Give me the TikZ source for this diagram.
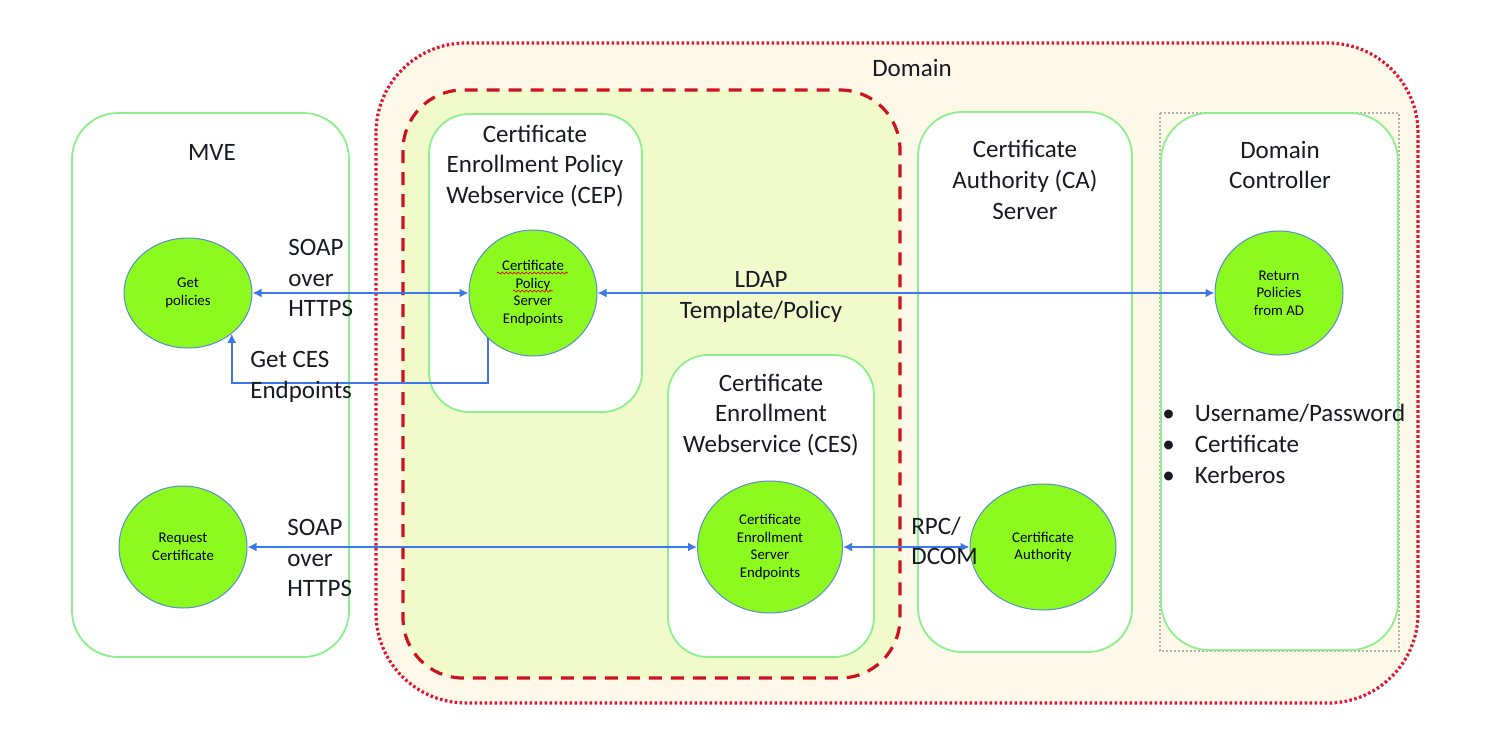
\documentclass[tikz,border=0pt]{standalone}
\usepackage{fontspec}
\setmainfont{Carlito}
\usetikzlibrary{shapes.geometric,arrows.meta,decorations.pathmorphing}
\definecolor{domainfill}{RGB}{253,248,232}
\definecolor{dashfill}{RGB}{240,250,202}
\definecolor{boxgreen}{RGB}{140,240,140}
\definecolor{circfill}{RGB}{140,250,30}
\definecolor{circborder}{RGB}{90,140,210}
\definecolor{arrowblue}{RGB}{60,120,235}
\definecolor{dotred}{RGB}{225,20,50}
\definecolor{dashred}{RGB}{205,20,30}
\definecolor{txt}{RGB}{25,25,35}
\tikzset{
  bigtext/.style={font=\fontsize{12.5}{15.3}\selectfont, text=txt, align=center, inner sep=0pt},
  lefttext/.style={font=\fontsize{12.5}{15.3}\selectfont, text=txt, align=left, inner sep=0pt},
  smalltext/.style={font=\fontsize{7.4}{8.8}\selectfont, text=black},
  greenbox/.style={draw=boxgreen, line width=0.9pt, fill=white},
  circ/.style={ellipse, draw=circborder, line width=0.5pt, fill=circfill, smalltext, align=center, inner sep=0pt},
  arr/.style={draw=arrowblue, line width=1.2pt, -{Latex[length=4.5pt,width=4.5pt]}},
  darr/.style={draw=arrowblue, line width=1.2pt, {Latex[length=4.5pt,width=4.5pt]}-{Latex[length=4.5pt,width=4.5pt]}},
  squig/.style={draw=red!85!black, line width=0.35pt, decorate, decoration={snake, amplitude=0.5pt, segment length=2pt}}
}
\begin{document}
\begin{tikzpicture}[x=0.5pt, y=-0.5pt]
\useasboundingbox (0,0) rectangle (1500,745);
\fill[white] (0,0) rectangle (1500,745);
% Domain
\draw[fill=domainfill, draw=dotred, line width=1.6pt, dash pattern=on 1.3pt off 1.2pt, rounded corners=45pt] (376,43) rectangle (1418,703);
\node[bigtext] (domlbl) at (912,68) {Domain};
% dashed region
\draw[fill=dashfill, draw=dashred, line width=1.6pt, dash pattern=on 6.5pt off 4.5pt, rounded corners=30pt] (403,90) rectangle (900,678);
% boxes
\draw[greenbox, rounded corners=23pt] (72,113) rectangle (349,657);
\node[bigtext] (mvelbl) at (212,152) {MVE};
\draw[greenbox, rounded corners=20pt] (429,114) rectangle (642,412);
\node[bigtext] (ceplbl) at (535,166) {Certificate\\Enrollment Policy\\Webservice (CEP)};
\draw[greenbox, rounded corners=20pt] (668,355) rectangle (874,657);
\node[bigtext] (ceslbl) at (771,415) {Certificate\\Enrollment\\Webservice (CES)};
\draw[greenbox, rounded corners=22pt] (918,112) rectangle (1132,652);
\node[bigtext] (calbl) at (1025,180) {Certificate\\Authority (CA)\\Server};
\draw[gray!60, line width=0.6pt, dash pattern=on 1pt off 1pt] (1160,113) rectangle (1399,651);
\draw[greenbox, rounded corners=24pt] (1161,113) rectangle (1398,650);
\node[bigtext] (dclbl) at (1280,165) {Domain\\Controller};
% bullets
\node[lefttext, anchor=west] (bul) at (1162,444) {\textbullet\hspace{10pt}Username/Password\\\textbullet\hspace{10pt}Certificate\\\textbullet\hspace{10pt}Kerberos};
% circles
\node[circ, minimum width=64pt, minimum height=55pt] (getp) at (188,293) {Get\\policies};
\node[circ, minimum width=64pt, minimum height=63pt] (cep) at (533,293) {Certificate\\Policy\\Server\\Endpoints};
\node[circ, minimum width=64pt, minimum height=62pt] (ret) at (1279,293) {Return\\Policies\\from AD};
\node[circ, minimum width=64pt, minimum height=61pt] (req) at (183,547) {Request\\Certificate};
\node[circ, minimum width=72.5pt, minimum height=66pt] (ces) at (770,547) {Certificate\\Enrollment\\Server\\Endpoints};
\node[circ, minimum width=73pt, minimum height=63pt] (ca) at (1043,547) {Certificate\\Authority};
\draw[squig] ([shift={(-36,-20)}]cep.center) -- ([shift={(35,-20)}]cep.center);
\draw[squig] ([shift={(-20,-2)}]cep.center) -- ([shift={(20,-2)}]cep.center);
% connectors
\coordinate (bendy) at (0,383);
\draw[darr] (getp.east) -- (cep.west);
\draw[darr] (cep.east) -- (ret.west);
\draw[arr] (cep.225) -- (cep.225 |- bendy) -| (getp.317);
\draw[darr] (req.east) -- (ces.west);
\draw[darr] (ces.east) -- (ca.west);
% labels
\node[lefttext, anchor=west] (soap1) at (288,278) {SOAP\\over\\HTTPS};
\node[lefttext, anchor=west] (getces) at (250,377) {Get CES\\Endpoints};
\node[bigtext] (ldap) at (761,297) {LDAP\\Template/Policy};
\node[lefttext, anchor=west] (soap2) at (287,558) {SOAP\\over\\HTTPS};
\node[lefttext, anchor=west] (rpc) at (911,541) {RPC/\\DCOM};
\end{tikzpicture}
\end{document}
